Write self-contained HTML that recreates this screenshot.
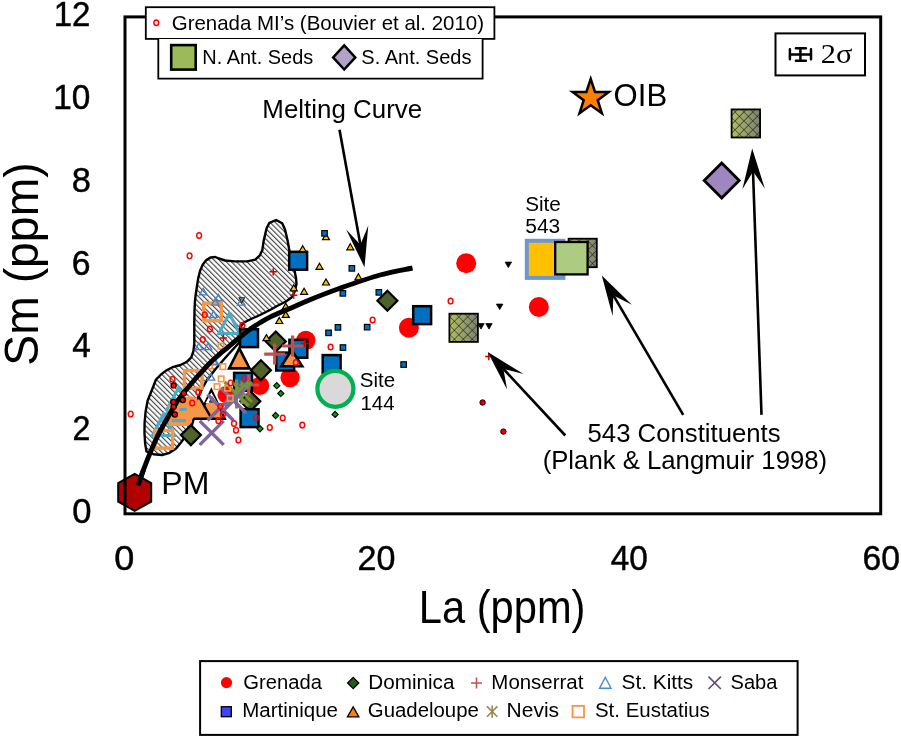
<!DOCTYPE html>
<html><head><meta charset="utf-8"><style>html,body{margin:0;padding:0;background:#fff;width:901px;height:739px;overflow:hidden}svg{display:block;will-change:transform}</style></head><body>
<svg width="901" height="739" viewBox="0 0 901 739" font-family='"Liberation Sans", sans-serif'>
<defs>
<pattern id="hatch" patternUnits="userSpaceOnUse" width="3.68" height="3.68" patternTransform="rotate(-45)"><line x1="0.6" y1="0" x2="0.6" y2="3.68" stroke="#333" stroke-width="1.05"/></pattern>
<linearGradient id="gx" x1="0" y1="0" x2="1" y2="0"><stop offset="0" stop-color="#b2bd62"/><stop offset="1" stop-color="#7b8272"/></linearGradient>
<pattern id="xh" patternUnits="userSpaceOnUse" width="6.3" height="6.3" patternTransform="rotate(45)"><path d="M0 0H6.3M0 0V6.3" stroke="#151515" stroke-width="1.1" fill="none"/></pattern>
</defs>
<rect width="901" height="739" fill="#fff"/>
<text x="53.73" y="26.2" font-size="35" text-anchor="start" textLength="36.7" lengthAdjust="spacingAndGlyphs" stroke="#000" stroke-width="0.45">12</text>
<text x="53.29" y="109.0" font-size="35" text-anchor="start" textLength="37.15" lengthAdjust="spacingAndGlyphs" stroke="#000" stroke-width="0.45">10</text>
<text x="71.85" y="191.8" font-size="35" text-anchor="start" textLength="19.17" lengthAdjust="spacingAndGlyphs" stroke="#000" stroke-width="0.45">8</text>
<text x="71.81" y="274.6" font-size="35" text-anchor="start" textLength="18.78" lengthAdjust="spacingAndGlyphs" stroke="#000" stroke-width="0.45">6</text>
<text x="72.33" y="357.4" font-size="35" text-anchor="start" textLength="18.5" lengthAdjust="spacingAndGlyphs" stroke="#000" stroke-width="0.45">4</text>
<text x="72.5" y="440.2" font-size="35" text-anchor="start" textLength="17.85" lengthAdjust="spacingAndGlyphs" stroke="#000" stroke-width="0.45">2</text>
<text x="72.22" y="523.0" font-size="35" text-anchor="start" textLength="19.23" lengthAdjust="spacingAndGlyphs" stroke="#000" stroke-width="0.45">0</text>
<text x="114.36" y="569.7" font-size="35" text-anchor="start" textLength="20.05" lengthAdjust="spacingAndGlyphs" stroke="#000" stroke-width="0.45">0</text>
<text x="357.6" y="569.7" font-size="35" text-anchor="start" textLength="37.87" lengthAdjust="spacingAndGlyphs" stroke="#000" stroke-width="0.45">20</text>
<text x="610.73" y="569.7" font-size="35" text-anchor="start" textLength="37.11" lengthAdjust="spacingAndGlyphs" stroke="#000" stroke-width="0.45">40</text>
<text x="862.62" y="569.7" font-size="35" text-anchor="start" textLength="37.44" lengthAdjust="spacingAndGlyphs" stroke="#000" stroke-width="0.45">60</text>
<text x="418.87" y="623.2" font-size="46" text-anchor="start" textLength="166.6" lengthAdjust="spacingAndGlyphs" >La (ppm)</text>
<g transform="translate(38.2,363.7) rotate(-90)">
<text x="-2.09" y="0" font-size="47.5" text-anchor="start" textLength="203.47" lengthAdjust="spacingAndGlyphs" >Sm (ppm)</text>
</g>
<rect x="200.1" y="661.1" width="597.5" height="73.8" fill="#fff" stroke="#000" stroke-width="2"/>
<circle cx="226.5" cy="682.6" r="5.6" fill="#f00" stroke="none" stroke-width="0"/>
<text x="243.39" y="688.5" font-size="19.5" text-anchor="start" textLength="78.65" lengthAdjust="spacingAndGlyphs" >Grenada</text>
<rect x="221.3" y="706.7" width="10" height="10" fill="#3a44ff" stroke="#000" stroke-width="1.3"/>
<text x="242.26" y="716.8" font-size="19.5" text-anchor="start" textLength="95.75" lengthAdjust="spacingAndGlyphs" >Martinique</text>
<path d="M353.2 677.4L358.8 683L353.2 688.6L347.59999999999997 683Z" fill="#1f5e1f" stroke="#000" stroke-width="1.3"/>
<text x="368.35" y="688.5" font-size="19.5" text-anchor="start" textLength="86.02" lengthAdjust="spacingAndGlyphs" >Dominica</text>
<path d="M353.2 706.9L358.9 716.9L347.4 716.9Z" fill="#ff7f00" stroke="#000" stroke-width="1.3" stroke-linejoin="miter"/>
<text x="367.78" y="716.8" font-size="19.5" text-anchor="start" textLength="111.12" lengthAdjust="spacingAndGlyphs" >Guadeloupe</text>
<path d="M471.0 682.9H482.0M476.5 677.4V688.4" stroke="#c0504d" stroke-width="1.5" fill="none"/>
<text x="491.37" y="688.5" font-size="19.5" text-anchor="start" textLength="91.97" lengthAdjust="spacingAndGlyphs" >Monserrat</text>
<path d="M487.0 706.4L497.4 716.8000000000001M497.4 706.4L487.0 716.8000000000001M492.2 705.4V717.8" stroke="#948a54" stroke-width="1.6" fill="none"/>
<text x="506.62" y="716.8" font-size="19.5" text-anchor="start" textLength="52.42" lengthAdjust="spacingAndGlyphs" >Nevis</text>
<path d="M605.3 677.3L611.0 688.3L599.5 688.3Z" fill="none" stroke="#4a8fd6" stroke-width="1.4" stroke-linejoin="miter"/>
<text x="621.56" y="688.5" font-size="19.5" text-anchor="start" textLength="71.67" lengthAdjust="spacingAndGlyphs" >St. Kitts</text>
<rect x="572.5" y="705.9" width="11.5" height="11.5" fill="none" stroke="#f79646" stroke-width="1.8"/>
<text x="594.98" y="716.8" font-size="19.5" text-anchor="start" textLength="114.81" lengthAdjust="spacingAndGlyphs" >St. Eustatius</text>
<path d="M708.5 676.5999999999999L720.9000000000001 689.0M720.9000000000001 676.5999999999999L708.5 689.0" stroke="#604a7b" stroke-width="1.6" fill="none"/>
<text x="730.5" y="688.5" font-size="19.5" text-anchor="start" textLength="46.91" lengthAdjust="spacingAndGlyphs" >Saba</text>
<path d="M153.4 454.2 146.5 451.5 145.2 444.1 144.5 433.3 144.6 422.5 145.6 411.7 147.6 400.8 152.3 389 156 379.5 161 374.5 166 370.6 172.5 367.2 180.5 365 187 361.7 191.3 357.4 193.5 350.9 194.3 343.3 194.3 332.5 194.3 321.7 194.5 310.8 194.9 302 195.7 294.7 197 285.9 198.3 277.9 200.1 270.8 202.8 264.5 206.3 260.1 210.8 257.4 215.2 257 218.7 258.3 225 260.5 234.7 261.4 247.2 261.4 255.2 259.7 259.6 255.7 262.3 250.3 263.6 241.1 265.3 233.9 266.6 228.3 269.4 222.8 276.1 220 282.2 223.3 285 229.4 286.3 235 287.7 241.1 289.1 248.8 291.5 260 294.5 270.6 296 278 296.5 284 294.5 292 291.5 297.5 286 301.5 278 305.5 270 310 260 315 250 319.5 244 322.5 240.5 327 239.5 334 238.7 343.1 226.2 356.7 216 368.5 207 380 202 389 198.5 397 196.5 406 194.5 416 192 425 189 431 185 437 181 442.5 176.1 448.5 169.6 452.8 162.1 455Z" fill="url(#hatch)"/>
<path d="M240.5 336L238.7 343.1L226.2 356.7L216.5 367.5L205.5 367.5L213 360L220 353.8L228.5 346.8Z" fill="#fff"/>
<path d="M153.4 454.2 146.5 451.5 145.2 444.1 144.5 433.3 144.6 422.5 145.6 411.7 147.6 400.8 152.3 389 156 379.5 161 374.5 166 370.6 172.5 367.2 180.5 365 187 361.7 191.3 357.4 193.5 350.9 194.3 343.3 194.3 332.5 194.3 321.7 194.5 310.8 194.9 302 195.7 294.7 197 285.9 198.3 277.9 200.1 270.8 202.8 264.5 206.3 260.1 210.8 257.4 215.2 257 218.7 258.3 225 260.5 234.7 261.4 247.2 261.4 255.2 259.7 259.6 255.7 262.3 250.3 263.6 241.1 265.3 233.9 266.6 228.3 269.4 222.8 276.1 220 282.2 223.3 285 229.4 286.3 235 287.7 241.1 289.1 248.8 291.5 260 294.5 270.6 296 278 296.5 284 294.5 292 291.5 297.5 286 301.5 278 305.5 270 310 260 315 250 319.5 244 322.5 240.5 327 239.5 334 238.7 343.1 226.2 356.7 216 368.5 207 380 202 389 198.5 397 196.5 406 194.5 416 192 425 189 431 185 437 181 442.5 176.1 448.5 169.6 452.8 162.1 455Z" fill="none" stroke="#000" stroke-width="2.4" stroke-linejoin="round"/>
<path d="M229.3 313.5L239.8 333.5L218.8 333.5Z" fill="none" stroke="#4bacc6" stroke-width="3.1" stroke-linejoin="miter"/>
<path d="M178.5 387.7L190.0 409.4L167.0 409.4Z" fill="none" stroke="#4bacc6" stroke-width="3.1" stroke-linejoin="miter"/>
<path d="M175 399.0L187.5 421.0L162.5 421.0Z" fill="none" stroke="#4bacc6" stroke-width="3.1" stroke-linejoin="miter"/>
<path d="M163.5 414.0L174.5 435.5L152.5 435.5Z" fill="none" stroke="#4bacc6" stroke-width="3.1" stroke-linejoin="miter"/>
<rect x="203.7" y="303.2" width="17.6" height="17.6" fill="none" stroke="#f79646" stroke-width="3.4"/>
<rect x="184.4" y="370.6" width="17.6" height="17.6" fill="none" stroke="#f79646" stroke-width="3.4"/>
<rect x="155.0" y="430.5" width="17.6" height="17.6" fill="none" stroke="#f79646" stroke-width="3.4"/>
<rect x="170.4" y="406.7" width="17.6" height="17.6" fill="none" stroke="#f79646" stroke-width="3.4"/>
<circle cx="260.1" cy="385.8" r="9.2" fill="#ff0000" stroke="none" stroke-width="0"/>
<circle cx="290.1" cy="377.6" r="9.6" fill="#ff0000" stroke="none" stroke-width="0"/>
<circle cx="305.8" cy="340.4" r="9.6" fill="#ff0000" stroke="none" stroke-width="0"/>
<circle cx="226" cy="394.7" r="8.5" fill="#ff0000" stroke="none" stroke-width="0"/>
<circle cx="408.9" cy="327.7" r="10" fill="#ff0000" stroke="none" stroke-width="0"/>
<circle cx="466.2" cy="263.2" r="10" fill="#ff0000" stroke="none" stroke-width="0"/>
<circle cx="538.8" cy="307" r="10" fill="#ff0000" stroke="none" stroke-width="0"/>
<path d="M250.3 391.2L260.3 401.2L250.3 411.2L240.3 401.2Z" fill="#4f6228" stroke="#000" stroke-width="2.2"/>
<rect x="322.7" y="355.1" width="17.9" height="17.9" fill="#0070c0" stroke="#000" stroke-width="2.5"/>
<rect x="289.2" y="251.8" width="17.9" height="17.9" fill="#0070c0" stroke="#000" stroke-width="2.5"/>
<rect x="240.1" y="329.2" width="17.9" height="17.9" fill="#0070c0" stroke="#000" stroke-width="2.5"/>
<rect x="234.1" y="372.9" width="17.9" height="17.9" fill="#0070c0" stroke="#000" stroke-width="2.5"/>
<rect x="240.6" y="409.2" width="17.9" height="17.9" fill="#0070c0" stroke="#000" stroke-width="2.5"/>
<rect x="276.2" y="352.6" width="17.9" height="17.9" fill="#0070c0" stroke="#000" stroke-width="2.5"/>
<rect x="289.4" y="339.8" width="17.9" height="17.9" fill="#0070c0" stroke="#000" stroke-width="2.5"/>
<rect x="413.2" y="306.2" width="17.9" height="17.9" fill="#0070c0" stroke="#000" stroke-width="2.5"/>
<path d="M239.3 348.4L249.6 368.4L229.1 368.4Z" fill="#f79646" stroke="#000" stroke-width="2.6" stroke-linejoin="miter"/>
<path d="M291.7 350.0L302.2 366.3L281.2 366.3Z" fill="#f79646" stroke="#000" stroke-width="2.6" stroke-linejoin="miter"/>
<path d="M211.3 390.0L224.8 418.8L197.8 418.8Z" fill="#f79646" stroke="#000" stroke-width="2.4" stroke-linejoin="miter"/>
<path d="M211.3 392.5L205.5 403L217.5 403Z" fill="#fff"/>
<path d="M212.3 396.8L215.3 402.2L209.3 402.2Z" fill="#8064a2" stroke="#222" stroke-width="1" stroke-linejoin="miter"/>
<path d="M198.8 396.5L211.8 418.8L185.8 418.8Z" fill="#f79646" stroke="#000" stroke-width="2.4" stroke-linejoin="miter"/>
<path d="M170 404L182 398L190 396L197 398L199 404L197 412L192 420L190 425.5L169 425.5Z" fill="#f79646"/>
<path d="M179.2 409.4H186.7" stroke="#4bacc6" stroke-width="3"/>
<path d="M171.8 420.6H186" stroke="#4bacc6" stroke-width="3"/>
<path d="M275.8 331.5L285.8 341.5L275.8 351.5L265.8 341.5Z" fill="#4f6228" stroke="#000" stroke-width="2.2"/>
<path d="M260.9 360.3L270.9 370.3L260.9 380.3L250.89999999999998 370.3Z" fill="#4f6228" stroke="#000" stroke-width="2.2"/>
<path d="M387.4 290.7L397.4 300.7L387.4 310.7L377.4 300.7Z" fill="#4f6228" stroke="#000" stroke-width="2.2"/>
<path d="M190.9 425.1L200.9 435.1L190.9 445.1L180.9 435.1Z" fill="#4f6228" stroke="#000" stroke-width="2.2"/>
<path d="M264.2 354.1H285.2M274.7 343.6V364.6" stroke="#c0504d" stroke-width="3.2" fill="none"/>
<path d="M282.1 346H303.1M292.6 335.5V356.5" stroke="#c0504d" stroke-width="3.2" fill="none"/>
<path d="M238.2 385H259.2M248.7 374.5V395.5" stroke="#c0504d" stroke-width="3.2" fill="none"/>
<path d="M224.5 382L248.5 406M248.5 382L224.5 406M236.5 379.6V408.4" stroke="#77933c" stroke-width="3.2" fill="none"/>
<path d="M232 382L252 402M252 382L232 402M242 380.0V404.0" stroke="#77933c" stroke-width="3" fill="none"/>
<path d="M199.7 420.9L223.7 444.9M223.7 420.9L199.7 444.9" stroke="#8064a2" stroke-width="3.4" fill="none"/>
<path d="M207.5 394.5L233.5 420.5M233.5 394.5L207.5 420.5" stroke="#8064a2" stroke-width="3.4" fill="none"/>
<path d="M221.0 388.0L246.0 413.0M246.0 388.0L221.0 413.0" stroke="#8064a2" stroke-width="3.4" fill="none"/>
<path d="M203.3 288.4L207.1 294.9L199.6 294.9Z" fill="none" stroke="#4a7fc4" stroke-width="1.4" stroke-linejoin="miter"/>
<path d="M218.4 294.4L222.2 300.9L214.7 300.9Z" fill="none" stroke="#4a7fc4" stroke-width="1.4" stroke-linejoin="miter"/>
<path d="M215.2 298.6L218.9 305.1L211.4 305.1Z" fill="none" stroke="#4a7fc4" stroke-width="1.4" stroke-linejoin="miter"/>
<path d="M213.6 311.1L217.3 317.6L209.8 317.6Z" fill="none" stroke="#4a7fc4" stroke-width="1.4" stroke-linejoin="miter"/>
<path d="M241.2 298.6L244.9 305.1L237.4 305.1Z" fill="none" stroke="#4a7fc4" stroke-width="1.4" stroke-linejoin="miter"/>
<path d="M198.9 343.1L202.7 349.6L195.2 349.6Z" fill="none" stroke="#4a7fc4" stroke-width="1.4" stroke-linejoin="miter"/>
<path d="M208.1 343.1L211.8 349.6L204.3 349.6Z" fill="none" stroke="#4a7fc4" stroke-width="1.4" stroke-linejoin="miter"/>
<path d="M214.4 357.6L218.2 364.1L210.7 364.1Z" fill="none" stroke="#4a7fc4" stroke-width="1.4" stroke-linejoin="miter"/>
<path d="M210.9 373.6L214.7 380.1L207.2 380.1Z" fill="none" stroke="#4a7fc4" stroke-width="1.4" stroke-linejoin="miter"/>
<path d="M213.9 358.4L217.7 364.9L210.2 364.9Z" fill="none" stroke="#4a7fc4" stroke-width="1.4" stroke-linejoin="miter"/>
<path d="M239.1 297.7L244.6 297.7L241.8 302.7Z" fill="none" stroke="#222" stroke-width="1.1" stroke-linejoin="miter"/>
<rect x="218.3" y="343.4" width="5.5" height="5.5" fill="none" stroke="#f79646" stroke-width="1.6"/>
<rect x="206.8" y="363.2" width="5.5" height="5.5" fill="none" stroke="#f79646" stroke-width="1.6"/>
<rect x="220.1" y="363.9" width="5.5" height="5.5" fill="none" stroke="#f79646" stroke-width="1.6"/>
<rect x="218.4" y="376.1" width="5.5" height="5.5" fill="none" stroke="#f79646" stroke-width="1.6"/>
<rect x="214.3" y="383.9" width="5.5" height="5.5" fill="none" stroke="#f79646" stroke-width="1.6"/>
<rect x="224.8" y="385.4" width="5.5" height="5.5" fill="none" stroke="#f79646" stroke-width="1.6"/>
<rect x="227.4" y="395.6" width="5.5" height="5.5" fill="none" stroke="#f79646" stroke-width="1.6"/>
<ellipse cx="199.1" cy="235.5" rx="2.4" ry="2.8" fill="none" stroke="#ff0000" stroke-width="1.45"/>
<ellipse cx="189.6" cy="255.8" rx="2.4" ry="2.8" fill="none" stroke="#ff0000" stroke-width="1.45"/>
<ellipse cx="204.8" cy="314.7" rx="2.4" ry="2.8" fill="none" stroke="#ff0000" stroke-width="1.45"/>
<ellipse cx="242.4" cy="325.2" rx="2.4" ry="2.8" fill="none" stroke="#ff0000" stroke-width="1.45"/>
<ellipse cx="209.9" cy="329.1" rx="2.4" ry="2.8" fill="none" stroke="#ff0000" stroke-width="1.45"/>
<ellipse cx="202.8" cy="339.6" rx="2.4" ry="2.8" fill="none" stroke="#ff0000" stroke-width="1.45"/>
<ellipse cx="172.5" cy="379.2" rx="2.4" ry="2.8" fill="none" stroke="#ff0000" stroke-width="1.45"/>
<ellipse cx="198.3" cy="392.2" rx="2.4" ry="2.8" fill="none" stroke="#ff0000" stroke-width="1.45"/>
<ellipse cx="192.2" cy="403" rx="2.4" ry="2.8" fill="none" stroke="#ff0000" stroke-width="1.45"/>
<ellipse cx="130.7" cy="414.1" rx="2.4" ry="2.8" fill="none" stroke="#ff0000" stroke-width="1.45"/>
<ellipse cx="243.9" cy="378.4" rx="2.4" ry="2.8" fill="none" stroke="#ff0000" stroke-width="1.45"/>
<ellipse cx="230.6" cy="382.9" rx="2.4" ry="2.8" fill="none" stroke="#ff0000" stroke-width="1.45"/>
<ellipse cx="220.4" cy="406.5" rx="2.4" ry="2.8" fill="none" stroke="#ff0000" stroke-width="1.45"/>
<ellipse cx="222.9" cy="414.3" rx="2.4" ry="2.8" fill="none" stroke="#ff0000" stroke-width="1.45"/>
<ellipse cx="218.4" cy="420.7" rx="2.4" ry="2.8" fill="none" stroke="#ff0000" stroke-width="1.45"/>
<ellipse cx="234" cy="423.5" rx="2.4" ry="2.8" fill="none" stroke="#ff0000" stroke-width="1.45"/>
<ellipse cx="236" cy="430.2" rx="2.4" ry="2.8" fill="none" stroke="#ff0000" stroke-width="1.45"/>
<ellipse cx="238.4" cy="440.1" rx="2.4" ry="2.8" fill="none" stroke="#ff0000" stroke-width="1.45"/>
<ellipse cx="256" cy="417.6" rx="2.4" ry="2.8" fill="none" stroke="#ff0000" stroke-width="1.45"/>
<ellipse cx="269.8" cy="427.5" rx="2.4" ry="2.8" fill="none" stroke="#ff0000" stroke-width="1.45"/>
<ellipse cx="282.7" cy="418" rx="2.4" ry="2.8" fill="none" stroke="#ff0000" stroke-width="1.45"/>
<ellipse cx="295.8" cy="362.5" rx="2.4" ry="2.8" fill="none" stroke="#ff0000" stroke-width="1.45"/>
<ellipse cx="330.6" cy="347" rx="2.4" ry="2.8" fill="none" stroke="#ff0000" stroke-width="1.45"/>
<ellipse cx="302.3" cy="425.1" rx="2.4" ry="2.8" fill="none" stroke="#ff0000" stroke-width="1.45"/>
<ellipse cx="450.6" cy="301.1" rx="2.4" ry="2.8" fill="none" stroke="#ff0000" stroke-width="1.45"/>
<ellipse cx="372.6" cy="320" rx="2.4" ry="2.8" fill="none" stroke="#ff0000" stroke-width="1.45"/>
<path d="M279.3 317.5L282.8 323.5L275.8 323.5Z" fill="#ffc000" stroke="#000" stroke-width="1.2" stroke-linejoin="miter"/>
<path d="M266.4 334.6L269.9 340.6L262.9 340.6Z" fill="#ffc000" stroke="#000" stroke-width="1.2" stroke-linejoin="miter"/>
<path d="M302.7 245.7L306.2 251.7L299.2 251.7Z" fill="#ffc000" stroke="#000" stroke-width="1.2" stroke-linejoin="miter"/>
<path d="M319.5 263.3L323.0 269.3L316.0 269.3Z" fill="#ffc000" stroke="#000" stroke-width="1.2" stroke-linejoin="miter"/>
<path d="M326 279.0L329.5 285.0L322.5 285.0Z" fill="#ffc000" stroke="#000" stroke-width="1.2" stroke-linejoin="miter"/>
<path d="M350.3 243.8L353.8 249.8L346.8 249.8Z" fill="#ffc000" stroke="#000" stroke-width="1.2" stroke-linejoin="miter"/>
<path d="M358.4 273.8L361.9 279.8L354.9 279.8Z" fill="#ffc000" stroke="#000" stroke-width="1.2" stroke-linejoin="miter"/>
<path d="M304.1 288.3L307.6 294.3L300.6 294.3Z" fill="#ffc000" stroke="#000" stroke-width="1.2" stroke-linejoin="miter"/>
<path d="M293.8 284.8L297.3 290.8L290.3 290.8Z" fill="#ffc000" stroke="#000" stroke-width="1.2" stroke-linejoin="miter"/>
<path d="M285.8 303.2L289.3 309.2L282.3 309.2Z" fill="#ffc000" stroke="#000" stroke-width="1.2" stroke-linejoin="miter"/>
<path d="M285.8 311.4L289.3 317.4L282.3 317.4Z" fill="#ffc000" stroke="#000" stroke-width="1.2" stroke-linejoin="miter"/>
<path d="M326 233.6L329.5 239.6L322.5 239.6Z" fill="#ffc000" stroke="#000" stroke-width="1.2" stroke-linejoin="miter"/>
<rect x="321.8" y="230.6" width="5.5" height="5.5" fill="#0070c0" stroke="#000" stroke-width="1.2"/>
<rect x="349.1" y="265.6" width="5.5" height="5.5" fill="#0070c0" stroke="#000" stroke-width="1.2"/>
<rect x="340.1" y="290.6" width="5.5" height="5.5" fill="#0070c0" stroke="#000" stroke-width="1.2"/>
<rect x="376.1" y="289.6" width="5.5" height="5.5" fill="#0070c0" stroke="#000" stroke-width="1.2"/>
<rect x="340.2" y="344.8" width="5.5" height="5.5" fill="#0070c0" stroke="#000" stroke-width="1.2"/>
<rect x="400.9" y="361.8" width="5.5" height="5.5" fill="#0070c0" stroke="#000" stroke-width="1.2"/>
<rect x="325.8" y="330.1" width="5.5" height="5.5" fill="#0070c0" stroke="#000" stroke-width="1.2"/>
<rect x="335.2" y="324.6" width="5.5" height="5.5" fill="#0070c0" stroke="#000" stroke-width="1.2"/>
<rect x="364.4" y="324.4" width="5.5" height="5.5" fill="#0070c0" stroke="#000" stroke-width="1.2"/>
<path d="M276.8 382.59999999999997L279.90000000000003 385.7L276.8 388.8L273.7 385.7Z" fill="#00a000" stroke="#000" stroke-width="1.1"/>
<path d="M280.8 390.29999999999995L283.90000000000003 393.4L280.8 396.5L277.7 393.4Z" fill="#00a000" stroke="#000" stroke-width="1.1"/>
<path d="M275.6 412.4L278.70000000000005 415.5L275.6 418.6L272.5 415.5Z" fill="#00a000" stroke="#000" stroke-width="1.1"/>
<path d="M260 425.7L263.1 428.8L260 431.90000000000003L256.9 428.8Z" fill="#00a000" stroke="#000" stroke-width="1.1"/>
<path d="M335.1 411.29999999999995L338.20000000000005 414.4L335.1 417.5L332.0 414.4Z" fill="#00a000" stroke="#000" stroke-width="1.1"/>
<path d="M269.59999999999997 271.8H276.8M273.2 268.2V275.40000000000003" stroke="#d00000" stroke-width="1.5" fill="none"/>
<path d="M290.09999999999997 295.2H297.3M293.7 291.59999999999997V298.8" stroke="#d00000" stroke-width="1.5" fill="none"/>
<path d="M219.9 338H227.1M223.5 334.4V341.6" stroke="#d00000" stroke-width="1.5" fill="none"/>
<path d="M301.09999999999997 343.5H308.3M304.7 339.9V347.1" stroke="#d00000" stroke-width="1.5" fill="none"/>
<path d="M485.2 356.6H492.40000000000003M488.8 353.0V360.20000000000005" stroke="#d00000" stroke-width="1.5" fill="none"/>
<path d="M505.1 262.1L511.6 262.1L508.3 267.6Z" fill="#000" stroke="#000" stroke-width="0.8" stroke-linejoin="miter"/>
<path d="M496.4 304.1L502.9 304.1L499.7 309.6Z" fill="#000" stroke="#000" stroke-width="0.8" stroke-linejoin="miter"/>
<path d="M477.8 323.6L484.2 323.6L481 329.1Z" fill="#000" stroke="#000" stroke-width="0.8" stroke-linejoin="miter"/>
<path d="M485.8 323.6L492.2 323.6L489 329.1Z" fill="#000" stroke="#000" stroke-width="0.8" stroke-linejoin="miter"/>
<circle cx="482.6" cy="402.5" r="2.7" fill="#e00000" stroke="#000" stroke-width="1"/>
<circle cx="503.4" cy="431.6" r="2.7" fill="#e00000" stroke="#000" stroke-width="1"/>
<circle cx="335.4" cy="388.8" r="18" fill="#d9d9d9" stroke="#00b050" stroke-width="4.3"/>
<rect x="449.4" y="313.7" width="28.5" height="28.2" fill="url(#gx)"/>
<rect x="449.4" y="313.7" width="28.5" height="28.2" fill="url(#xh)" stroke="#000" stroke-width="1.8"/>
<rect x="731.6" y="109.4" width="28.5" height="28.1" fill="url(#gx)"/>
<rect x="731.6" y="109.4" width="28.5" height="28.1" fill="url(#xh)" stroke="#000" stroke-width="1.8"/>
<rect x="568.6" y="238.7" width="28.2" height="28.5" fill="url(#gx)"/>
<rect x="568.6" y="238.7" width="28.2" height="28.5" fill="url(#xh)" stroke="#000" stroke-width="1.8"/>
<rect x="526.8" y="240.8" width="36.6" height="37.1" fill="#ffc000" stroke="#6f97cf" stroke-width="4"/>
<rect x="555.2" y="242.0" width="32.4" height="32.4" fill="#aecb82" stroke="#000" stroke-width="2.3"/>
<path d="M721.7 162.9L739.2 180.4L721.7 197.9L704.2 180.4Z" fill="#9e87be" stroke="#000" stroke-width="2.8"/>
<path d="M590.7 78.9L595.0 91.9L608.8 92.0L597.7 100.2L601.9 113.3L590.7 105.3L579.5 113.3L583.7 100.2L572.6 92.0L586.4 91.9Z" fill="#ff8000" stroke="#000" stroke-width="2.5" stroke-linejoin="miter"/>
<path d="M138.1 485.2 C139.0 482.6 141.7 474.6 143.6 469.5 C145.5 464.4 147.5 459.2 149.5 454.4 C151.5 449.6 153.6 444.6 155.5 440.5 C157.4 436.4 159.1 433.1 161 429.5 C162.9 425.9 164.2 423.7 167 418.9 C169.8 414.1 174.7 405.3 177.9 400.5 C181.1 395.7 183.4 393.2 186 390 C188.6 386.8 191.2 383.7 193.5 381 C195.8 378.3 197.8 376.1 200 373.7 C202.2 371.3 204.3 368.8 206.5 366.5 C208.7 364.2 210.8 362.1 213 360 C215.2 357.9 217.4 356.0 220 353.8 C222.6 351.6 224.8 349.9 228.5 346.8 C232.2 343.7 238.4 338.3 242 335.4 C245.6 332.5 247.0 331.3 250.1 329.2 C253.2 327.1 257.0 324.5 260.3 322.5 C263.6 320.5 265.1 319.5 270 317.1 C274.9 314.8 283.3 311.3 290 308.4 C296.7 305.5 301.7 303.1 310 299.7 C318.3 296.3 328.3 292.3 340 288.2 C351.7 284.1 367.9 278.4 380 275 C392.1 271.6 407.1 269.2 412.5 268" fill="none" stroke="#000" stroke-width="4.9" stroke-linecap="butt"/>
<circle cx="173.6" cy="385.4" r="2.6" fill="#ff0000" stroke="#000" stroke-width="1.2"/>
<circle cx="183.9" cy="393.3" r="2.6" fill="#ff0000" stroke="#000" stroke-width="1.2"/>
<circle cx="182.8" cy="400" r="2.6" fill="#ff0000" stroke="#000" stroke-width="1.2"/>
<circle cx="173.6" cy="406.7" r="2.6" fill="#ff0000" stroke="#000" stroke-width="1.2"/>
<circle cx="174.9" cy="414.5" r="2.6" fill="#ff0000" stroke="#000" stroke-width="1.2"/>
<circle cx="173.3" cy="402" r="2.6" fill="#ff0000" stroke="#000" stroke-width="1.2"/>
<path d="M134.7 473.8L151.2 483.1L151.2 501.6L134.7 510.8L118.2 501.6L118.2 483.1Z" fill="#b00000" stroke="#000" stroke-width="2"/>
<path d="M138.1 485.2 L143.6 469.5" stroke="#000" stroke-width="4.9"/>
<text x="161.34" y="493.5" font-size="32" text-anchor="start" textLength="47.98" lengthAdjust="spacingAndGlyphs" >PM</text>
<text x="262.33" y="118.2" font-size="25.8" text-anchor="start" textLength="159.82" lengthAdjust="spacingAndGlyphs" >Melting Curve</text>
<text x="525.17" y="210.6" font-size="19.5" text-anchor="start" textLength="35.63" lengthAdjust="spacingAndGlyphs" >Site</text>
<text x="525.26" y="233.4" font-size="19.5" text-anchor="start" textLength="34.95" lengthAdjust="spacingAndGlyphs" >543</text>
<text x="359.78" y="386.5" font-size="20" text-anchor="start" textLength="35.42" lengthAdjust="spacingAndGlyphs" >Site</text>
<text x="360.47" y="410" font-size="20" text-anchor="start" textLength="34.12" lengthAdjust="spacingAndGlyphs" >144</text>
<text x="613.6" y="106.4" font-size="30.5" text-anchor="start" textLength="53.53" lengthAdjust="spacingAndGlyphs" >OIB</text>
<text x="587.57" y="441.6" font-size="25.6" text-anchor="start" textLength="193.03" lengthAdjust="spacingAndGlyphs" >543 Constituents</text>
<text x="542.66" y="469.3" font-size="25.6" text-anchor="start" textLength="284.44" lengthAdjust="spacingAndGlyphs" >(Plank &amp; Langmuir 1998)</text>
<line x1="339.5" y1="129.7" x2="360.4" y2="244.7" stroke="#000" stroke-width="2.6"/>
<path d="M364.5 267.3L346.2 229.5L360.4 244.7L368.3 225.5Z" fill="#000"/>
<line x1="565.3" y1="435.5" x2="503.4" y2="368.9" stroke="#000" stroke-width="2.6"/>
<path d="M487.7 352.1L523.5 374.1L503.4 368.9L507.1 389.4Z" fill="#000"/>
<line x1="683.2" y1="414.9" x2="613.4" y2="295.4" stroke="#000" stroke-width="2.6"/>
<path d="M601.8 275.5L631.9 304.8L613.4 295.4L612.6 316.1Z" fill="#000"/>
<line x1="761.5" y1="414.9" x2="753.0" y2="171.4" stroke="#000" stroke-width="2.6"/>
<path d="M752.2 148.4L764.8 188.5L753.0 171.4L742.4 189.3Z" fill="#000"/>
<rect x="125" y="16.9" width="755.7" height="496.9" fill="none" stroke="#000" stroke-width="3"/>
<rect x="145.8" y="7.2" width="348.6" height="31.7" fill="#fff" stroke="#000" stroke-width="1.8"/>
<ellipse cx="156.3" cy="22.7" rx="2.4" ry="2.8" fill="none" stroke="#f00" stroke-width="1.45"/>
<text x="171.78" y="30" font-size="19.8" text-anchor="start" textLength="312.3" lengthAdjust="spacingAndGlyphs" >Grenada MI’s (Bouvier et al. 2010)</text>
<path d="M158.3 38.9V78.6H482.6V38.9" fill="#fff" stroke="#000" stroke-width="1.8"/>
<rect x="171.2" y="45.1" width="24.5" height="24.5" fill="#9bbb59" stroke="#000" stroke-width="2.6"/>
<text x="202.3" y="64.2" font-size="19.5" text-anchor="start" textLength="110.97" lengthAdjust="spacingAndGlyphs" >N. Ant. Seds</text>
<path d="M344.2 45.3L355.3 57.4L344.2 69.5L333.1 57.4Z" fill="#b3a2c7" stroke="#000" stroke-width="2.5"/>
<text x="361.3" y="64.2" font-size="19.5" text-anchor="start" textLength="110.17" lengthAdjust="spacingAndGlyphs" >S. Ant. Seds</text>
<rect x="775.5" y="33.4" width="89.5" height="42" fill="#fff" stroke="#000" stroke-width="2"/>
<path d="M789.9 49.3V59.3M789.9 54.5H811M811 49.3V59.3M800.4 48.3V60.7M795.9 48.3H805.9M795.9 60.7H805.9" stroke="#000" stroke-width="2.5" fill="none" stroke-linecap="round"/>
<text x="820.83" y="63.2" font-size="28" text-anchor="start" textLength="31.6" lengthAdjust="spacingAndGlyphs" font-family="Liberation Serif, serif">2σ</text>
</svg>
</body></html>
